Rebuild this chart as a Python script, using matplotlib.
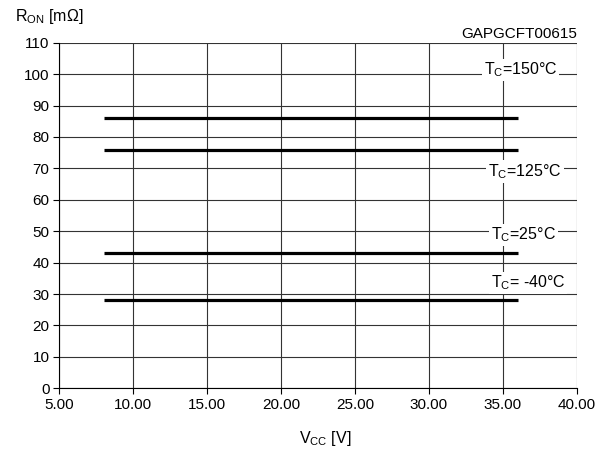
import matplotlib
matplotlib.use('Agg')
import matplotlib.pyplot as plt

plt.rcParams['font.family'] = ['Liberation Sans', 'DejaVu Sans']
plt.rcParams['mathtext.fontset'] = 'custom'
plt.rcParams['mathtext.rm'] = 'Liberation Sans'
plt.rcParams['mathtext.it'] = 'Liberation Sans'

# supply voltage range of each curve
vcc = [8, 36]
# on-resistance per case temperature (flat over VCC)
temps = ['150', '125', '25', '-40']
ron = [86, 76, 43, 28]
label_x = [36.2, 36.5, 36.4, 36.7]
label_y = [101.3, 69, 48.8, 33.5]
label_txt = [r'T$_{\mathrm{C}}$=150°C', r'T$_{\mathrm{C}}$=125°C',
             r'T$_{\mathrm{C}}$=25°C', r'T$_{\mathrm{C}}$= -40°C']

xticks = [5, 10, 15, 20, 25, 30, 35, 40]
yticks = list(range(0, 111, 10))

fig = plt.figure(figsize=(6.11, 4.58), dpi=100)
ax = fig.add_axes([59.3 / 611, 1 - 388.3 / 458, 517.4 / 611, 345.6 / 458])

for v in ron:
    ax.plot(vcc, [v, v], color='black', lw=2.3, solid_capstyle='butt', zorder=3)

for x, y, t in zip(label_x, label_y, label_txt):
    ax.text(x, y, t, ha='center', va='center', fontsize=11.5, zorder=4,
            bbox=dict(facecolor='white', edgecolor='none', pad=1.5))

ax.set_xlim(5, 40)
ax.set_ylim(0, 110)
ax.set_xticks(xticks)
ax.set_xticklabels(['%.2f' % t for t in xticks])
ax.set_yticks(yticks)
ax.grid(True, color='#333333', lw=0.8, zorder=1)
ax.set_axisbelow(True)
for s in ['top', 'right']:
    ax.spines[s].set_visible(False)
for s in ['left', 'bottom']:
    ax.spines[s].set_color('black')
    ax.spines[s].set_linewidth(0.8)
ax.tick_params(direction='out', length=4, width=0.8, labelsize=11, pad=3)

fig.text(15 / 611, 1 - 16 / 458, r'R$_{\mathrm{ON}}$ [mΩ]', fontsize=11.5,
         ha='left', va='center')
fig.text(325 / 611, 1 - 438 / 458, r'V$_{\mathrm{CC}}$ [V]', fontsize=11.5,
         ha='center', va='center')
fig.text(577 / 611, 1 - 34 / 458, 'GAPGCFT00615', fontsize=11, ha='right', va='center')

fig.savefig('out.png', dpi=100)
